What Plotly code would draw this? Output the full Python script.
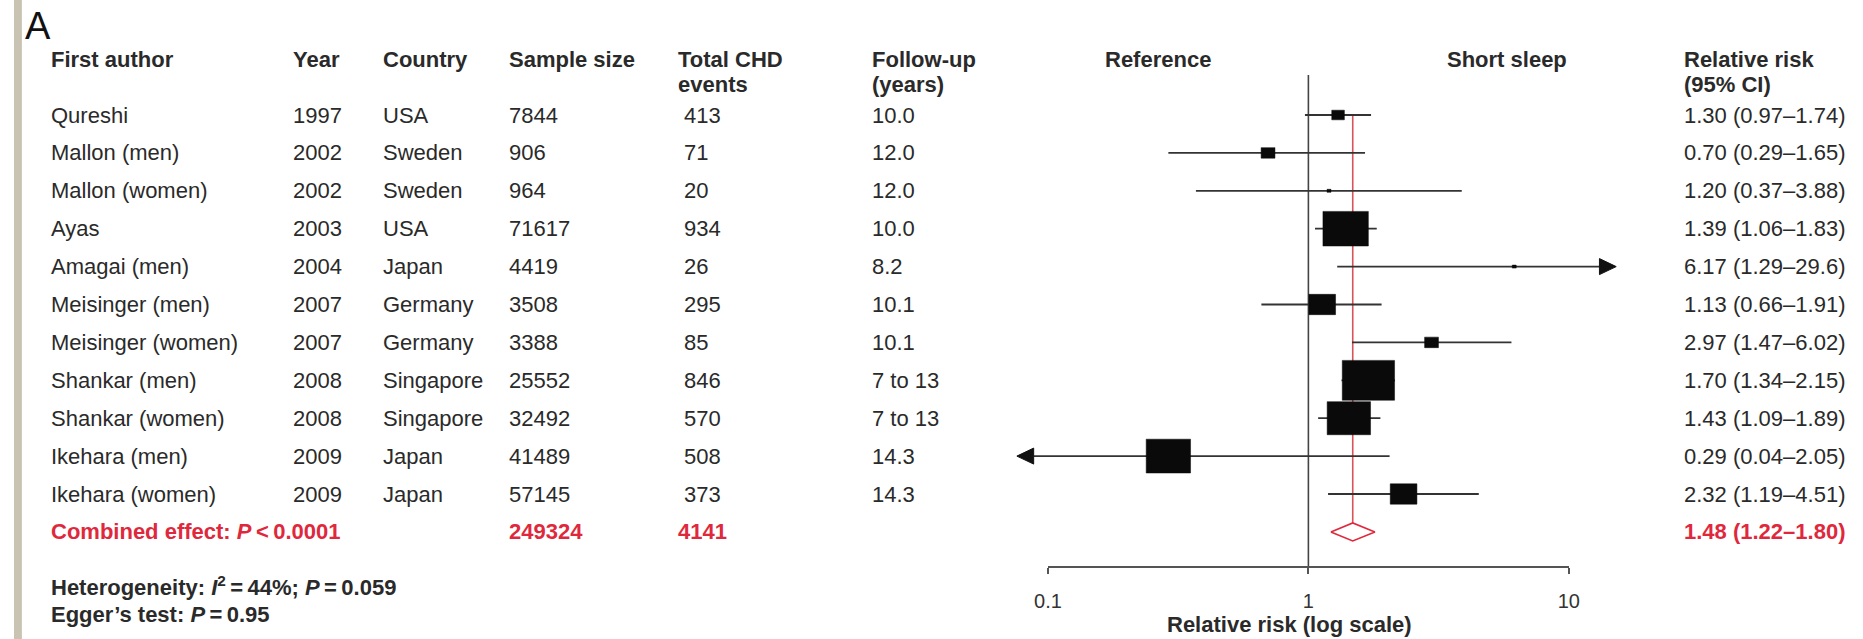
import math
import plotly.graph_objects as go

# ---------------- data ----------------
authors = ["Qureshi", "Mallon (men)", "Mallon (women)", "Ayas", "Amagai (men)",
           "Meisinger (men)", "Meisinger (women)", "Shankar (men)", "Shankar (women)",
           "Ikehara (men)", "Ikehara (women)"]
years = [1997, 2002, 2002, 2003, 2004, 2007, 2007, 2008, 2008, 2009, 2009]
countries = ["USA", "Sweden", "Sweden", "USA", "Japan", "Germany", "Germany",
             "Singapore", "Singapore", "Japan", "Japan"]
sample_size = [7844, 906, 964, 71617, 4419, 3508, 3388, 25552, 32492, 41489, 57145]
chd_events = [413, 71, 20, 934, 26, 295, 85, 846, 570, 508, 373]
follow_up = ["10.0", "12.0", "12.0", "10.0", "8.2", "10.1", "10.1", "7 to 13", "7 to 13", "14.3", "14.3"]
rel_risk = [1.30, 0.70, 1.20, 1.39, 6.17, 1.13, 2.97, 1.70, 1.43, 0.29, 2.32]
ci_low = [0.97, 0.29, 0.37, 1.06, 1.29, 0.66, 1.47, 1.34, 1.09, 0.04, 1.19]
ci_high = [1.74, 1.65, 3.88, 1.83, 29.6, 1.91, 6.02, 2.15, 1.89, 2.05, 4.51]
weight_pct = [1.5, 1.8, 0.1, 19.4, 0.1, 6.7, 1.8, 25.7, 17.7, 18.5, 6.7]

combined_rr = 1.48
combined_low = 1.22
combined_high = 1.80
combined_p = "0.0001"
heterogeneity_i2 = "44%"
heterogeneity_p = "0.059"
egger_p = "0.95"
axis_ticks = [0.1, 1, 10]
axis_clip = [0.076, 15.2]   # where the arrows are drawn

# ---------------- geometry / style ----------------
W, H = 1863, 639
X_ONE = 1312.0      # pixel of RR = 1
DEC = 264.0         # pixels per decade
ROW0 = 115.0        # pixel of first study row
ROW_H = 37.9        # pixels between rows
FONT = "Liberation Sans, Arial, Helvetica, sans-serif"
TXT = "#2a2a2a"
RED = "#e0283c"
LINE_RED = "#d9535a"
FS = 22


def px(p):
    return p / W


def ry(p):
    return (p - ROW0) / ROW_H


def fmt(v):
    return f"{v:.1f}" if v >= 10 else f"{v:.2f}"


n = len(authors)
comb_row = n

fig = go.Figure()

# reference line at RR = 1
fig.add_trace(go.Scatter(x=[1, 1], y=[ry(75), ry(567)], mode="lines",
                         line=dict(color="#444", width=1.6), hoverinfo="skip"))
# red line at combined estimate
dh = 9 / ROW_H
fig.add_trace(go.Scatter(x=[combined_rr, combined_rr], y=[0, comb_row - dh], mode="lines",
                         line=dict(color=LINE_RED, width=1.6), hoverinfo="skip"))

# CI lines
cx, cy = [], []
arrow_x, arrow_y = [], []
head = 17 / DEC
ah = 8 / ROW_H
for i in range(n):
    lo = ci_low[i]
    hi = ci_high[i]
    x0 = lo
    x1 = hi
    if lo < axis_clip[0]:
        tip = axis_clip[0]
        base = tip * 10 ** head
        x0 = base
        arrow_x += [tip, base, base, tip, None]
        arrow_y += [i, i - ah, i + ah, i, None]
    if hi > axis_clip[1]:
        tip = axis_clip[1]
        base = tip / 10 ** head
        x1 = base
        arrow_x += [tip, base, base, tip, None]
        arrow_y += [i, i - ah, i + ah, i, None]
    cx += [x0, x1, None]
    cy += [i, i, None]
fig.add_trace(go.Scatter(x=cx, y=cy, mode="lines", line=dict(color="#333", width=1.8),
                         hoverinfo="skip"))
fig.add_trace(go.Scatter(x=arrow_x, y=arrow_y, mode="lines", fill="toself",
                         fillcolor="#111", line=dict(color="#111", width=1), hoverinfo="skip"))

# weighted boxes
bx, by = [], []
for i in range(n):
    s = max(4.0, 10.45 * math.sqrt(weight_pct[i]))
    hw = s / 2 / DEC
    hh = s / 1.33 / 2 / ROW_H
    r = rel_risk[i]
    a, b = r / 10 ** hw, r * 10 ** hw
    bx += [a, b, b, a, a, None]
    by += [i - hh, i - hh, i + hh, i + hh, i - hh, None]
fig.add_trace(go.Scatter(x=bx, y=by, mode="lines", fill="toself", fillcolor="#0a0a0a",
                         line=dict(color="#0a0a0a", width=0.5), hoverinfo="skip"))

# combined diamond
fig.add_trace(go.Scatter(x=[combined_low, combined_rr, combined_high, combined_rr, combined_low],
                         y=[comb_row, comb_row - dh, comb_row, comb_row + dh, comb_row],
                         mode="lines", fill="toself", fillcolor="white",
                         line=dict(color=RED, width=1.6), hoverinfo="skip"))

# invisible trace holding the visible log axis
fig.add_trace(go.Scatter(x=axis_ticks, y=[comb_row] * 3, xaxis="x2", yaxis="y",
                         mode="markers", marker=dict(opacity=0), hoverinfo="skip"))

ann = []


def text(xp, y, s, bold=False, color=TXT, size=FS, yref="y", xanchor="left"):
    ann.append(dict(x=px(xp), xref="paper", y=y, yref=yref, text=(f"<b>{s}</b>" if bold else s),
                    showarrow=False, xanchor=xanchor, yanchor="middle",
                    font=dict(family=FONT, size=size, color=color)))


COLS = dict(author=35, year=281, country=372, sample=500, events=671, follow=868,
            ref=1104, short=1450, rr=1691)

# header
H1, H2 = ry(59), ry(84)
text(COLS["author"], H1, "First author", bold=True)
text(COLS["year"], H1, "Year", bold=True)
text(COLS["country"], H1, "Country", bold=True)
text(COLS["sample"], H1, "Sample size", bold=True)
text(COLS["events"], H1, "Total CHD", bold=True)
text(COLS["events"], H2, "events", bold=True)
text(COLS["follow"], H1, "Follow-up", bold=True)
text(COLS["follow"], H2, "(years)", bold=True)
text(COLS["ref"], H1, "Reference", bold=True)
text(COLS["short"], H1, "Short sleep", bold=True)
text(COLS["rr"], H1, "Relative risk", bold=True)
text(COLS["rr"], H2, "(95% CI)", bold=True)

for i in range(n):
    text(COLS["author"], i, authors[i])
    text(COLS["year"], i, str(years[i]))
    text(COLS["country"], i, countries[i])
    text(COLS["sample"], i, str(sample_size[i]))
    text(COLS["events"] + 6, i, str(chd_events[i]))
    text(COLS["follow"], i, follow_up[i])
    text(COLS["rr"], i, f"{fmt(rel_risk[i])} ({fmt(ci_low[i])}\u2013{fmt(ci_high[i])})")

# combined row
text(COLS["author"], comb_row, f"Combined effect: <i>P</i>\u2009<\u2009{combined_p}", bold=True, color=RED)
text(COLS["sample"], comb_row, str(sum(sample_size)), bold=True, color=RED)
text(COLS["events"], comb_row, str(sum(chd_events)), bold=True, color=RED)
text(COLS["rr"], comb_row, f"{fmt(combined_rr)} ({fmt(combined_low)}\u2013{fmt(combined_high)})",
     bold=True, color=RED)

# footnotes
text(COLS["author"], ry(586), f"Heterogeneity: <i>I</i><sup>2</sup>\u2009=\u2009{heterogeneity_i2}; <i>P</i>\u2009=\u2009{heterogeneity_p}", bold=True)
text(COLS["author"], ry(614), f"Egger\u2019s test: <i>P</i>\u2009=\u2009{egger_p}", bold=True)

# axis title
text(1293, ry(624), "Relative risk (log scale)", bold=True, xanchor="center")

# panel letter
text(9, ry(26), "A", size=38, color="#111")

fig.update_layout(
    width=W, height=H,
    margin=dict(l=0, r=0, t=0, b=0),
    paper_bgcolor="white", plot_bgcolor="rgba(0,0,0,0)",
    showlegend=False,
    xaxis=dict(type="log", domain=[0, 1], range=[(0 - X_ONE) / DEC, (W - X_ONE) / DEC],
               visible=False, fixedrange=True),
    xaxis2=dict(type="log", domain=[px(X_ONE - DEC), px(X_ONE + DEC)], range=[-1, 1],
                anchor="free", position=1 - 567 / H,
                showline=True, linecolor="#555", linewidth=2,
                ticks="outside", ticklen=6, tickwidth=2, tickcolor="#555",
                tickvals=axis_ticks, ticktext=["0.1", "1", "10"],
                tickfont=dict(family=FONT, size=20, color="#333"),
                ticklabelstandoff=10, showgrid=False, zeroline=False, fixedrange=True),
    yaxis=dict(range=[(H - ROW0) / ROW_H, -ROW0 / ROW_H], domain=[0, 1], visible=False,
               fixedrange=True),
    annotations=ann,
    shapes=[dict(type="rect", xref="paper", yref="paper", x0=0, x1=px(8), y0=0, y1=1,
                 fillcolor="#c8c3b3", line=dict(width=0), layer="below")],
)

fig.write_html("out.html", config={"displayModeBar": False},
               post_script="document.body.style.margin='0';document.body.style.padding='0';"
                           "document.body.style.overflow='hidden';")
